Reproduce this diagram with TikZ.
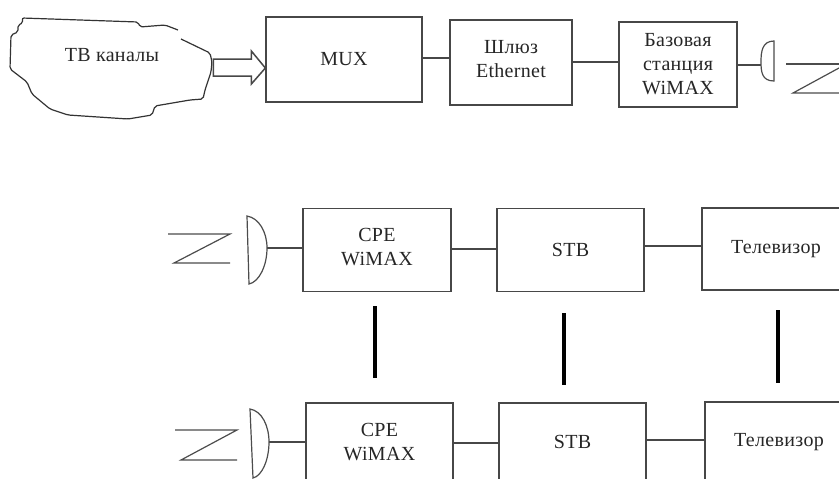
\documentclass[tikz,border=0pt]{standalone}
\usepackage{fontspec}
\setmainfont{Liberation Serif}[LetterSpace=1.6]
\tikzset{
    blockbox/.style={draw=black!72, line width=1.3pt, align=center, inner sep=0pt, text=black!85, font=\fontsize{20}{24}\selectfont},
    link/.style={draw=black!72, line width=1.2pt},
    antenna/.style={draw=black!70, line width=1.2pt},
    joiner/.style={draw=black, line width=3.6pt},
}

\begin{document}
\begin{tikzpicture}[x=1pt, y=-1pt]

    \useasboundingbox (0,0) rectangle (839,479);
    \clip (0,0) rectangle (839,479);

    \def\rowb{250}
    \def\rowc{442}

    % --- Head end ---
    \node[blockbox, minimum width=156, minimum height=85] (mux) at (344,59.5) {MUX};
    \node[blockbox, minimum width=122, minimum height=85, text depth=7pt] (gateway) at (511,62.5) {Шлюз\\Ethernet};
    \node[blockbox, minimum width=118, minimum height=85] (base) at (678,64.5) {Базовая\\станция\\WiMAX};

    \draw[link] (mux.east |- 0,58) -- (gateway.west |- 0,58);
    \draw[link] (gateway.east |- 0,62) -- (base.west |- 0,62);

    % TV channels outline, open at the upper right
    \draw[antenna, draw=black!80, rounded corners=2pt] (181,39) -- (210,53) -- (212,62) -- (211,72) -- (205,90) -- (203,99)
    -- (190,100) -- (155,106) -- (152,115) -- (128,119) -- (68,115) -- (50,109) -- (32,94) -- (27,82)
    -- (10,69) -- (11,35) -- (18,32) -- (18,25) -- (23,23) -- (22,18) -- (138,22) -- (140,27) -- (165,25) -- (178,30);
    \node[text=black!85, font=\fontsize{20}{24}\selectfont] (channels) at (112,55) {ТВ каналы};

    % Block arrow into the multiplexer
    \draw[link, line width=1.5pt] ([yshift=-8.5pt]mux.west) -- ++(-14,-17) -- ++(0,8) -- ++(-38,0) -- ++(0,17) -- ++(38,0) -- ++(0,8) -- cycle;

    % Transmit antenna
    \coordinate (dishbase) at (761,65);
    \draw[link] (base.east |- dishbase) -- (dishbase);
    \draw[antenna] (774,41) .. controls (762,41) and (761,52) .. (761,62)
    .. controls (761,72) and (762,81) .. (774,81) -- cycle;
    \draw[antenna] (786,64) -- (839,64);
    \draw[antenna] (839,68) -- (793,93) -- (839,93);

    % --- First subscriber ---
    \node[blockbox, minimum width=148, minimum height=83, text depth=6pt] (cpeb) at (377,\rowb) {CPE\\WiMAX};
    \node[blockbox, minimum width=147, minimum height=83] (stbb) at (570.5,\rowb) {STB};
    \node[blockbox, minimum width=148, minimum height=82] (tvb) at (776,249) {Телевизор};

    \coordinate (dishb) at (267,248);
    \draw[link] (dishb) -- (cpeb.west |- dishb);
    \draw[link] (cpeb.east |- 0,249) -- (stbb.west |- 0,249);
    \draw[link] (stbb.east |- 0,246) -- (tvb.west |- 0,246);
    \draw[antenna] (247,216) .. controls (259,218) and (267,232) .. (267,248)
    .. controls (267,266) and (259,282) .. (249,284) -- cycle;
    \draw[antenna] (168,234) -- (230,234) -- (174,263) -- (230,263);

    % --- Second subscriber ---
    \node[blockbox, minimum width=147, minimum height=78] (cpec) at (379.5,\rowc) {CPE\\WiMAX};
    \node[blockbox, minimum width=147, minimum height=78] (stbc) at (572.5,\rowc) {STB};
    \node[blockbox, minimum width=148, minimum height=80] (tvc) at (779,442) {Телевизор};

    \coordinate (dishc) at (269,442);
    \draw[link] (dishc) -- (cpec.west |- dishc);
    \draw[link] (cpec.east |- 0,443) -- (stbc.west |- 0,443);
    \draw[link] (stbc.east |- 0,440) -- (tvc.west |- 0,440);
    \draw[antenna] (250,409) .. controls (262,411) and (269,426) .. (269,442)
    .. controls (269,460) and (262,476) .. (253,478) -- cycle;
    \draw[antenna] (175,430) -- (237,430) -- (181,460) -- (237,460);

    % --- Between the two subscribers ---
    \draw[joiner] (375,306) -- (375,378);
    \draw[joiner] (564,313) -- (564,385);
    \draw[joiner] (778,310) -- (778,383);

\end{tikzpicture}
\end{document}
